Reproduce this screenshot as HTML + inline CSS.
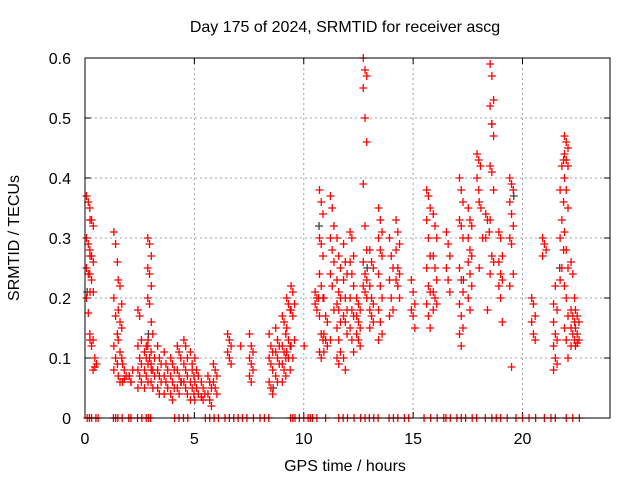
<!DOCTYPE html>
<html><head><meta charset="utf-8"><style>
body{margin:0;background:#fff}
svg text{font-family:"Liberation Sans",sans-serif;font-size:16px;fill:#000}
</style></head><body>
<svg id="chart" width="640" height="480" viewBox="0 0 640 480" xmlns="http://www.w3.org/2000/svg">
<rect width="640" height="480" fill="#fff"/>
<text x="345" y="32" text-anchor="middle">Day 175 of 2024, SRMTID for receiver ascg</text>
<text transform="translate(19,238) rotate(-90)" text-anchor="middle">SRMTID / TECUs</text>
<text x="345" y="471" text-anchor="middle">GPS time / hours</text>
<g id="grid"></g><g id="ticks"></g><g id="marks"></g>
<rect x="85" y="58" width="525" height="360" fill="none" stroke="#000" stroke-width="1"/>
</svg>
<script>
const xTicks=[0,5,10,15,20];
const yTicks=[0,0.1,0.2,0.3,0.4,0.5,0.6];
const yTickLabels=["0","0.1","0.2","0.3","0.4","0.5","0.6"];
const clusterTimes=[0.15,0.3,0.45,1.4,1.6,1.8,2.1,2.5,2.8,2.95,3.1,3.4,3.7,4.0,4.3,4.6,4.9,5.1,5.4,5.7,5.95,6.6,7.2,7.6,8.5,8.8,9.1,9.3,9.5,10.1,10.6,10.8,11.0,11.3,11.6,11.9,12.2,12.5,12.8,13.1,13.5,14.0,14.3,15.0,15.7,16.0,16.6,17.2,17.6,18.0,18.1,18.4,18.6,19.0,19.5,20.5,21.0,21.5,21.8,22.0,22.3,22.5];
const clusterValues=[
[.37,.36,.33,.30,.29,.27,.25,.24,.21,.2,.175,.13],
[.35,.33,.32,.28,.27,.26,.24,.23,.21,.14,.12],
[.13,.1,.09,.08,.085],
[.31,.29,.26,.2,.17,.14,.12,.1,.09,.08],
[.23,.22,.19,.18,.16,.15,.13,.11,.1,.07,.06],
[.09,.08,.07,.06,.065],
[.07,.06,.08,.07,.06],
[.18,.17,.13,.12,.1,.09,.08,.07,.06,.05],
[.11,.1,.09,.08,.07,.06,.05,.12,.13],
[.3,.29,.27,.25,.24,.22,.2,.19,.16,.12,.1,.08],
[.09,.08,.07,.06,.05,.1,.11,.14],
[.12,.1,.09,.08,.07,.06,.05,.04],
[.11,.09,.08,.07,.06,.05,.04],
[.1,.09,.08,.07,.06,.05,.04,.03],
[.12,.11,.1,.08,.07,.06,.05,.04],
[.13,.12,.1,.09,.08,.07,.06,.05,.04],
[.11,.09,.07,.06,.05,.04,.03,.08],
[.1,.08,.07,.06,.05,.04,.03],
[.06,.05,.04,.035,.03],
[.07,.06,.05,.04,.03,.02],
[.09,.08,.07,.06,.05,.04],
[.14,.13,.12,.11,.1,.09],
[.12],
[.14,.12,.11,.1,.09,.08,.07,.06],
[.14,.12,.11,.1,.09,.08,.06,.05,.04],
[.15,.13,.12,.11,.1,.09,.07,.06],
[.17,.16,.14,.12,.11,.1,.09,.08,.07,.06],
[.2,.19,.18,.15,.13,.12,.11,.1,.08],
[.22,.21,.19,.18,.17,.13,.12,.1],
[.12],
[.21,.2,.2,.19,.18],
[.38,.36,.34,.3,.29,.27,.24,.22,.2,.17,.14,.13,.11,.1],
[.2,.17,.16,.14,.13,.12,.11],
[.37,.35,.32,.3,.28,.26,.24,.22,.18,.13],
[.3,.27,.25,.23,.21,.2,.19,.18,.16,.15,.13,.11,.1,.09],
[.29,.26,.24,.23,.2,.18,.17,.16,.14,.1,.08],
[.31,.3,.27,.26,.24,.22,.2,.18,.17,.15,.13,.11],
[.2,.19,.18,.17,.16,.15,.14,.13,.12],
[.6,.58,.57,.55,.5,.46,.39,.32,.28,.26,.24,.23,.22,.21,.2],
[.28,.26,.25,.22,.2,.19,.18,.17,.16,.15],
[.35,.33,.31,.3,.28,.27,.24,.22,.2,.18,.16,.14,.13],
[.3,.27,.25,.23,.2,.18,.17],
[.33,.31,.29,.28,.25,.24,.23,.22,.2],
[.23,.21,.19,.18,.17,.15],
[.38,.37,.35,.33,.3,.27,.25,.22,.21,.19,.17,.15],
[.34,.32,.3,.27,.25,.23,.21,.2,.19,.18],
[.31,.29,.27,.25,.23,.21],
[.4,.38,.36,.33,.32,.3,.25,.23,.21,.19,.17,.15,.14,.12],
[.35,.33,.32,.3,.28,.27,.26,.24,.22,.2,.18],
[.44,.43,.42,.4,.38],
[.36,.35,.3,.25],
[.34,.33,.31,.3,.18],
[.59,.57,.53,.52,.49,.47,.42,.41,.38,.33,.27,.26,.24],
[.31,.3,.27,.26,.24,.23,.22,.2,.16],
[.4,.39,.38,.36,.34,.32,.3,.29,.24,.22,.085],
[.2,.19,.17,.16,.14,.13],
[.3,.29,.28,.27],
[.16,.14,.13,.12,.1,.09,.08,.22,.18,.19],
[.23,.25,.28,.3,.33,.36,.38,.42,.43],
[.47,.46,.45,.44,.43,.42,.4,.38,.35,.31,.28,.25,.22,.2,.17,.15,.13,.1],
[.26,.24,.2,.18,.17,.16,.15,.14,.13,.12],
[.18,.17,.16,.15,.14,.13,.12,.125]
];
const grayTimes=[0.1,2.9,4.4,8.6,10.7,12.9,17.3,18.6,19.6,21.7];
const grayValues=[0.21,0.14,0.06,0.05,0.32,0.25,0.23,0.49,0.37,0.25];
const zeroTimes=[0.1,0.2,0.3,0.5,0.6,1.3,1.4,1.5,1.7,2.0,2.1,2.4,2.6,2.8,2.9,3.0,4.1,4.3,4.5,4.7,5.5,5.7,5.9,6.1,6.4,6.6,6.8,7.0,7.2,7.4,7.7,8.0,8.2,8.4,9.4,9.5,9.6,9.8,10.0,10.2,10.3,10.4,10.6,11.0,11.6,11.8,12.0,12.3,12.6,12.8,13.0,13.2,13.4,13.9,14.1,14.3,14.6,14.8,15.5,15.8,16.1,16.4,16.5,16.7,17.0,17.2,17.4,17.7,17.9,18.3,18.6,18.8,19.0,19.3,19.7,20.0,20.3,20.6,21.0,21.3,21.5,22.0,22.3,22.6];

const NS="http://www.w3.org/2000/svg";
const X=t=>85+t*525/24;
const Y=v=>418-v*600;
function mk(tag,attrs,parent){const e=document.createElementNS(NS,tag);for(const k in attrs)e.setAttribute(k,attrs[k]);parent.appendChild(e);return e;}
const grid=document.getElementById('grid'),ticks=document.getElementById('ticks'),marks=document.getElementById('marks');
xTicks.forEach(t=>{
  const x=X(t);
  if(t>0){const g=mk('line',{x1:x,x2:x,y1:58,y2:418,stroke:'#a0a0a0','stroke-dasharray':'2,3'},grid);
  
  }
  mk('line',{x1:x,x2:x,y1:418,y2:412,stroke:'#000'},ticks);
  mk('line',{x1:x,x2:x,y1:58,y2:64,stroke:'#000'},ticks);
  const l=mk('text',{x:x,y:444,'text-anchor':'middle'},ticks);l.textContent=t;
  
  
});
yTicks.forEach((v,i)=>{
  const y=Y(v);
  if(v>0&&v<0.6){const g=mk('line',{x1:85,x2:610,y1:y,y2:y,stroke:'#a0a0a0','stroke-dasharray':'2,3'},grid);
  
  }
  mk('line',{x1:85,x2:91,y1:y,y2:y,stroke:'#000'},ticks);
  mk('line',{x1:604,x2:610,y1:y,y2:y,stroke:'#000'},ticks);
  const l=mk('text',{x:71,y:y+6,'text-anchor':'end'},ticks);l.textContent=yTickLabels[i];
  
  
});
function plus(t,v,color,name){
  const x=X(t),y=Y(v);
  const p=mk('path',{d:`M${x-4} ${y}H${x+4}M${x} ${y-4}V${y+4}`,stroke:color,'stroke-width':1.3,fill:'none'},marks);
  
  
}
grayTimes.forEach((t,i)=>plus(t,grayValues[i],'#404040','gray-point'));
clusterTimes.forEach((t,i)=>clusterValues[i].forEach((v,j)=>plus(t+(j%3-1)*0.08,v,'#ff0000','srmtid-point')));
zeroTimes.forEach(t=>plus(t,0,'#ff0000','zero-point'));
</script>
</body></html>
